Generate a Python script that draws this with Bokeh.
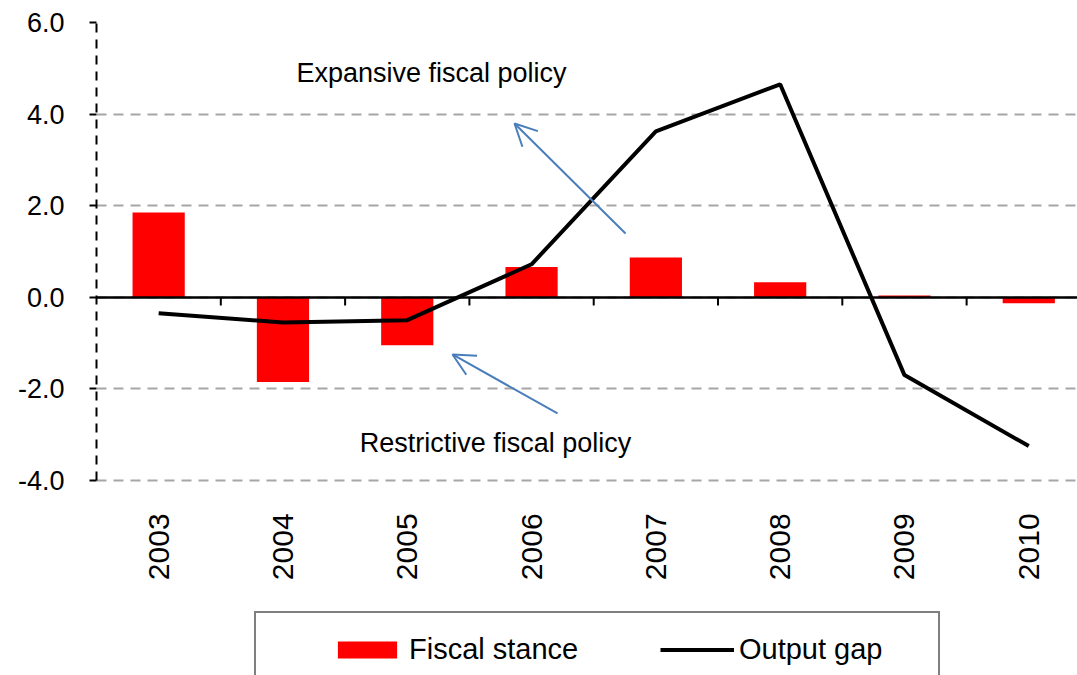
import math
from bokeh.plotting import figure
from bokeh.models import (Range1d, FixedTicker, PrintfTickFormatter,
                          Legend, LegendItem, Arrow, OpenHead, Label)
from bokeh.core.properties import value
from bokeh.embed import file_html
from bokeh.resources import INLINE

# ---- data ----
years = ["2003", "2004", "2005", "2006", "2007", "2008", "2009", "2010"]
fiscal_stance = [1.85, -1.85, -1.05, 0.66, 0.87, 0.33, 0.04, -0.13]
output_gap = [-0.35, -0.55, -0.50, 0.72, 3.62, 4.65, -1.70, -3.25]
y_ticks = [-4, -2, 0, 2, 4, 6]

FONT = "Liberation Sans"
BLUE = "#4a7ebb"

x = [i + 0.5 for i in range(len(years))]
boundaries = [i for i in range(1, len(years))]

# frame spans the whole lower area so that the legend can sit inside it
p = figure(width=1077, height=675,
           x_range=Range1d(0, 7.892), y_range=Range1d(-8.26, 6),
           x_axis_location="above",
           output_backend="svg", toolbar_location=None,
           min_border_left=96, min_border_right=0,
           min_border_top=22, min_border_bottom=0)
p.outline_line_color = None
p.background_fill_color = "white"
p.border_fill_color = "white"

# grid
p.xgrid.visible = False
p.ygrid.ticker = FixedTicker(ticks=y_ticks)
p.ygrid.grid_line_color = "#a6a6a6"
p.ygrid.grid_line_width = 2
p.ygrid.grid_line_dash = "10 7"

# y axis (dashed line limited to the tick range)
p.yaxis.ticker = FixedTicker(ticks=y_ticks)
p.yaxis.bounds = (min(y_ticks), max(y_ticks))
p.yaxis.formatter = PrintfTickFormatter(format="%.1f")
p.yaxis.axis_line_color = "black"
p.yaxis.axis_line_width = 2
p.yaxis.axis_line_dash = "9 7"
p.yaxis.major_tick_out = 7
p.yaxis.major_tick_in = 0
p.yaxis.major_tick_line_width = 2
p.yaxis.major_tick_line_color = "black"
p.yaxis.minor_tick_line_color = None
p.yaxis.major_label_text_font = FONT
p.yaxis.major_label_text_font_size = "27px"
p.yaxis.major_label_text_color = "black"
p.yaxis.major_label_standoff = 25

# glyphs
bars = p.vbar(x=x, top=fiscal_stance, bottom=0, width=0.42,
              fill_color="#ff0000", line_color=None)
ln = p.line(x=x, y=output_gap, line_color="black", line_width=4)

# category-boundary tick marks hanging below the zero line
p.segment(x0=boundaries, y0=[0] * len(boundaries),
          x1=boundaries, y1=[-0.18] * len(boundaries),
          line_color="black", line_width=2)

# x axis used as the zero line
xa = p.xaxis[0]
xa.fixed_location = 0
xa.ticker = FixedTicker(ticks=boundaries)
xa.axis_line_color = "black"
xa.axis_line_width = 2.5
xa.major_tick_in = 0
xa.major_tick_out = 0
xa.major_tick_line_color = None
xa.minor_tick_line_color = None
xa.minor_tick_in = 0
xa.minor_tick_out = 0
xa.major_label_standoff = 0
xa.major_label_text_font_size = "1px"
xa.major_label_overrides = {b: "" for b in boundaries}

# year labels, rotated, below the plotting area
p.text(x=x, y=[-4.72] * len(years), text=years, angle=math.pi / 2,
       text_align="right", text_baseline="middle",
       text_font=value(FONT), text_font_size="30px", text_color="black")

# arrows
p.add_layout(Arrow(end=OpenHead(size=22, line_color=BLUE, line_width=2),
                   x_start=4.256, y_start=1.393, x_end=3.363, y_end=3.795,
                   line_color=BLUE, line_width=2))
p.add_layout(Arrow(end=OpenHead(size=22, line_color=BLUE, line_width=2),
                   x_start=3.709, y_start=-2.537, x_end=2.864, y_end=-1.249,
                   line_color=BLUE, line_width=2))

# annotations
p.add_layout(Label(x=2.695, y=4.908, text="Expansive fiscal policy",
                   text_align="center", text_baseline="middle",
                   text_font=FONT, text_font_size="27px", text_color="black"))
p.add_layout(Label(x=3.21, y=-3.19, text="Restrictive fiscal policy",
                   text_align="center", text_baseline="middle",
                   text_font=FONT, text_font_size="27px", text_color="black"))

# legend (its lower part runs off the bottom edge, as in the original)
legend = Legend(items=[LegendItem(label="Fiscal stance", renderers=[bars]),
                       LegendItem(label="Output gap", renderers=[ln])],
                orientation="horizontal", location=(158, -13),
                border_line_color="black", border_line_width=2,
                background_fill_color="white", background_fill_alpha=1,
                glyph_width=74, glyph_height=21, label_standoff=5,
                spacing=72, label_width=179, padding=20, margin=0,
                label_text_font=FONT, label_text_font_size="29px",
                label_text_color="black",
                title=" ", title_location="left",
                title_text_font_size="14px", title_standoff=38)
p.add_layout(legend)

open("out.html", "w").write(file_html(p, INLINE))
